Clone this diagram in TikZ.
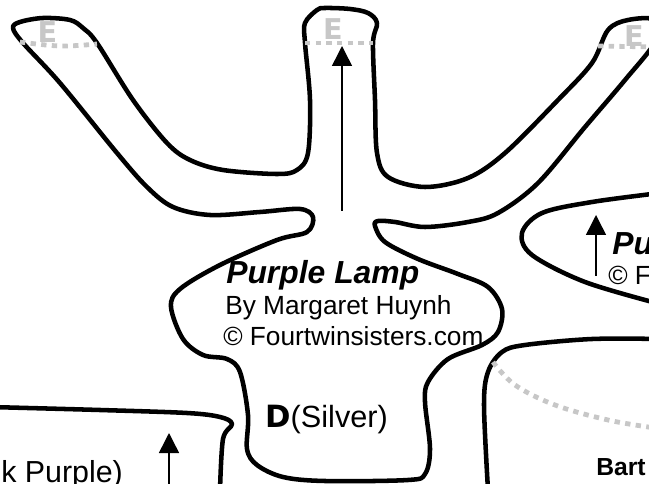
\documentclass[tikz,border=0pt]{standalone}
\usepackage{fontspec}
\setmainfont{Liberation Sans}
\newfontfamily\heavyfont{DejaVu Sans}
\usetikzlibrary{arrows.meta}
\tikzset{
  outline/.style={line width=3.4pt, line cap=round, line join=round},
  foldline/.style={line width=3.6pt, draw=foldgray, dash pattern=on 4pt off 4pt},
  grain/.style={line width=1.1pt, -{Triangle[width=15pt,length=15pt]}},
  letter/.style={font=\heavyfont\bfseries\fontsize{21.5}{21.5}\selectfont, text=foldgray, inner sep=0pt},
  title/.style={font=\bfseries\itshape\fontsize{23.9}{23.9}\selectfont, inner sep=0pt, anchor=base west},
  body/.style={font=\fontsize{19.7}{19.7}\selectfont, inner sep=0pt, anchor=base west},
}
\definecolor{foldgray}{gray}{0.78}
\begin{document}
\begin{tikzpicture}[x=0.75pt,y=-0.75pt]
  \useasboundingbox (0,0) rectangle (649,484);
  \clip (0,0) rectangle (649,484);

  % Lamp
  \draw[outline] plot[smooth cycle, tension=0.55] coordinates {
    (13,28) (20,22) (43,18) (70,20) (83,28) (97,43) (133,100) (167,143) (190,160)
    (223,170) (277,174) (297,170) (308,153) (310,100) (305,43) (305,23) (317,10)
    (325,8) (350,9) (368,13) (377,23) (373,43) (375,100) (377,153) (388,177)
    (425,187) (468,178) (505,153) (558,100) (592,63) (608,30) (628,20) (655,20)
    (655,42) (625,80) (585,127) (538,183) (498,213) (468,222) (425,227) (395,222)
    (378,221) (375,226) (385,242) (418,259) (458,274) (488,287) (502,309) (498,332)
    (482,345) (448,359) (428,382) (425,402) (430,449) (425,474) (408,480) (325,481)
    (283,477) (257,465) (247,449) (248,415) (240,372) (227,359) (203,355) (183,339)
    (171,307) (180,289) (220,265) (277,240) (307,232) (313,217) (300,209) (260,212)
    (210,215) (173,207) (147,187) (117,153) (60,83) (23,43)};

  % Other pieces
  \draw[outline] plot[smooth, tension=0.55] coordinates {
    (660,193) (592,202) (542,213) (522,233) (532,255) (585,282) (660,304)};
  \draw[outline] plot[smooth, tension=0.55] coordinates {
    (660,339) (592,339) (525,345) (502,352) (488,372) (484,405) (488,490)};
  \draw[outline] plot[smooth, tension=0.55] coordinates {
    (-10,407) (100,410) (187,413) (220,417) (232,424) (223,439) (220,490)};

  % Fold lines
  \draw[foldline] plot[smooth, tension=0.6] coordinates {(20,42) (60,46) (97,44)};
  \draw[foldline] (305,43) -- (373,43);
  \draw[foldline] (598,46) -- (655,47);
  \draw[foldline] plot[smooth, tension=0.6] coordinates {(493,362) (515,385) (555,405) (608,420) (655,428)};

  % Letters
  \node[letter] (armleft) at (47.5,32.5) {E};
  \node[letter] (armmid) at (333,29) {E};
  \node[letter] (armright) at (634,36) {E};

  % Arrows
  \coordinate (midfoot) at (342,211);
  \coordinate (midhead) at (342,46);
  \draw[grain] (midfoot) -- (midhead);
  \coordinate (rightfoot) at (596,276);
  \coordinate (righthead) at (596,215);
  \draw[grain] (rightfoot) -- (righthead);
  \coordinate (leftfoot) at (169,490);
  \coordinate (lefthead) at (169,433);
  \draw[grain] (leftfoot) -- (lefthead);

  % Labels
  \node[title] (lamptitle) at (226,284) {Purple Lamp};
  \node[body] (lampby) at (225,315) {By Margaret Huynh};
  \node[body] (lampsite) at (223,345) {© Fourtwinsisters.com};
  \node[body, font=\fontsize{23}{23}\selectfont] (lamppart) at (265,427) {{\heavyfont\bfseries D}(Silver)};
  \node[body, font=\fontsize{22.8}{22.8}\selectfont] (leftpart) at (1,482) {k Purple)};
  \node[title] (righttitle) at (612,255) {Pu};
  \node[body] (rightsite) at (608,285) {© F};
  \node[font=\bfseries\fontsize{18.5}{18.5}\selectfont, inner sep=0pt, anchor=base west] (rightname) at (596,475) {Bart};
\end{tikzpicture}
\end{document}
